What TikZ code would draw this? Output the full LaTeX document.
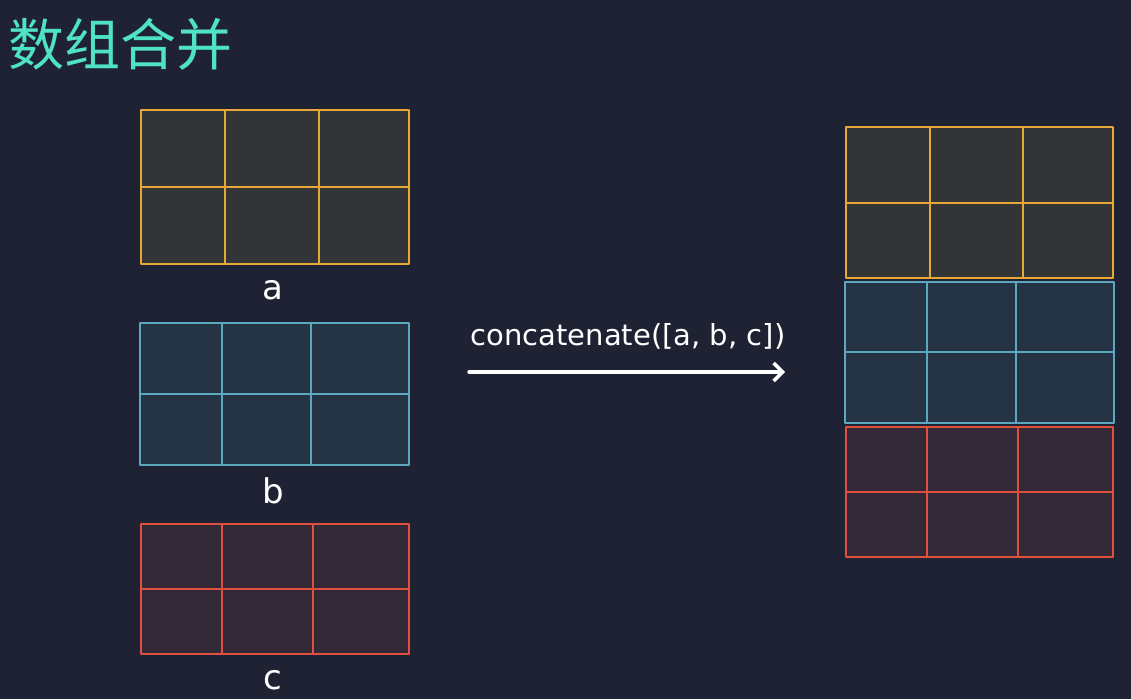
\documentclass[tikz,border=0pt]{standalone}
\usepackage{fontspec}
\setmainfont{DejaVu Sans}
\newfontfamily\cjk{Noto Sans CJK SC}
\usetikzlibrary{arrows.meta}
\definecolor{bg}{HTML}{1E2233}
\definecolor{ystroke}{HTML}{E8A838}
\definecolor{yfill}{HTML}{323436}
\definecolor{bstroke}{HTML}{5BA8BF}
\definecolor{bfill}{HTML}{243444}
\definecolor{rstroke}{HTML}{E0503F}
\definecolor{rfill}{HTML}{322836}
\definecolor{titlecol}{HTML}{4FE3C3}
\tikzset{
  cell/.style={line width=2.8pt, line join=round},
  ygrid/.style={cell, draw=ystroke, fill=yfill},
  bgrid/.style={cell, draw=bstroke, fill=bfill},
  rgrid/.style={cell, draw=rstroke, fill=rfill},
  lbl/.style={text=white, inner sep=0.5pt, font=\fontsize{34}{36}\selectfont},
}
% \gridbox{name}{style}{x1}{y1}{x2}{y2}{v1}{v2}{h}
\newcommand\gridbox[9]{%
  \node[#2, rectangle, inner sep=0pt, outer sep=0pt,
        minimum width={(#5-#3)*1pt}, minimum height={(#6-#4)*1pt}]
        (#1) at ({(#3+#5)/2},{(#4+#6)/2}) {};
  \draw[#2, fill=none] (#7,#4) -- (#7,#6) (#8,#4) -- (#8,#6) (#3,#9) -- (#5,#9);
}
\begin{document}
\begin{tikzpicture}[x=1pt,y=-1pt]
\fill[bg] (0,0) rectangle (1131,699);
\useasboundingbox (0,0) rectangle (1131,699);

\node[text=titlecol, anchor=west, inner sep=0pt, font=\cjk\fontsize{56}{60}\selectfont] (title) at (8,44) {数组合并};

\gridbox{a}{ygrid}{141}{110}{409}{264}{225}{319}{187}
\gridbox{b}{bgrid}{140}{323}{409}{465}{222}{311}{394}
\gridbox{c}{rgrid}{141}{524}{409}{654}{222}{313}{589}

\node[lbl] (la) at (273,290) {a};
\node[lbl] (lb) at (273,491) {b};
\node[lbl] (lc) at (273,680) {c};

\gridbox{ra}{ygrid}{846}{127}{1113}{278}{930}{1023}{203}
\gridbox{rb}{bgrid}{845}{282}{1114}{423}{927}{1016}{352}
\gridbox{rc}{rgrid}{846}{427}{1113}{557}{927}{1018}{492}

\node[lbl, font=\fontsize{29}{31}\selectfont] (op) at (628,336) {concatenate([a, b, c])};
\coordinate (s) at (469,372);
\coordinate (e) at (785,372);
\draw[white, line width=3.5pt, line cap=round, -{Straight Barb[length=9pt,width=18pt,line width=3.5pt]}] (s) -- (e);
\end{tikzpicture}
\end{document}
